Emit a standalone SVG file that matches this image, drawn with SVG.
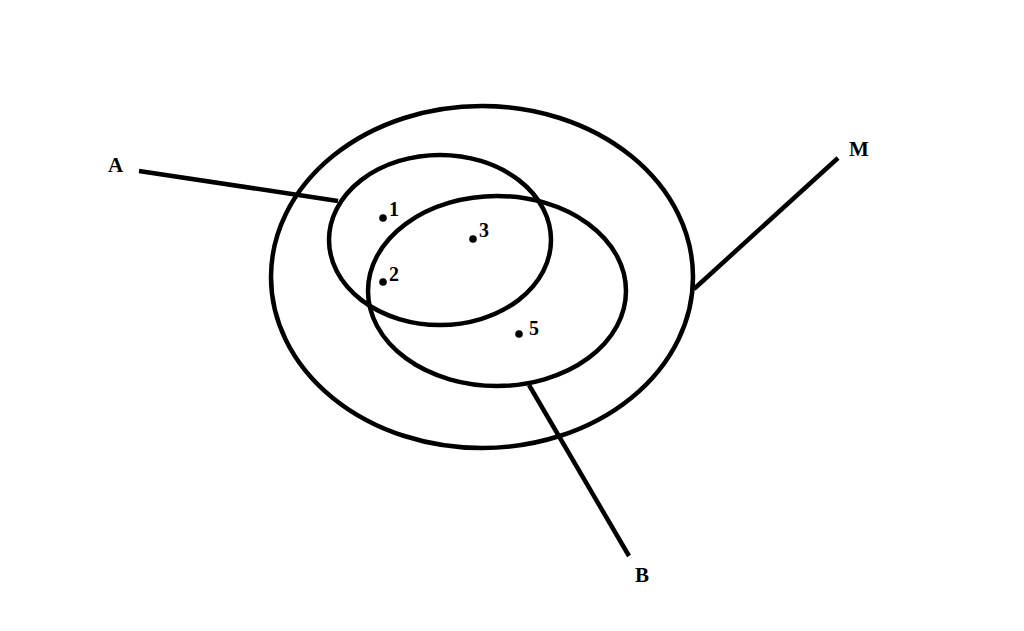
<svg xmlns="http://www.w3.org/2000/svg" width="1024" height="631" viewBox="0 0 1024 631">
<style>
.s{fill:none;stroke:#000;stroke-width:4.5}
.t{font-family:"Liberation Serif",serif;font-weight:bold;font-size:21px;fill:#000}
.n{font-size:20px}
.d{fill:#000}
</style>
<rect width="1024" height="631" fill="#fff"/>
<g id="M"><ellipse class="s" cx="482" cy="277" rx="211" ry="171"/><text class="t" x="849" y="156">M</text></g>
<g id="A"><ellipse class="s" cx="440" cy="240" rx="111" ry="85"/><text class="t" x="108" y="172">A</text></g>
<g id="B"><ellipse class="s" cx="497" cy="291" rx="129" ry="95"/><text class="t" x="635" y="582">B</text></g>
<g id="connectors">
<line class="s" x1="139" y1="171" x2="338" y2="201"/>
<line class="s" x1="694" y1="289" x2="838" y2="158"/>
<line class="s" x1="529" y1="385" x2="629" y2="556"/>
</g>
<g id="points">
<circle class="d" cx="383" cy="218" r="3.8"/><text class="t n" x="389" y="216">1</text>
<circle class="d" cx="473" cy="239" r="3.8"/><text class="t n" x="479" y="237">3</text>
<circle class="d" cx="383" cy="282" r="3.8"/><text class="t n" x="389" y="281">2</text>
<circle class="d" cx="519" cy="334" r="3.8"/><text class="t n" x="529" y="335">5</text>
</g>
</svg>
